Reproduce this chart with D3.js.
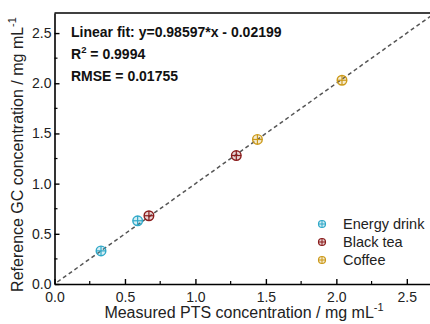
<!DOCTYPE html>
<html>
<head>
<meta charset="utf-8">
<script src="https://cdn.jsdelivr.net/npm/d3@7"></script>
<style>
  body { margin: 0; background: #fff; }
  text { font-family: "Liberation Sans", Arial, sans-serif; }
</style>
</head>
<body>
<div id="chart"></div>
<script>
// data
var groups = ["Energy drink", "Black tea", "Coffee"];
var colors = ["#2fa8c8", "#8a1c1c", "#cc9a1a"];
var measured = [[0.33, 0.59], [0.67, 1.29], [1.44, 2.04]];
var reference = [[0.33, 0.63], [0.68, 1.28], [1.44, 2.03]];
var tickValues = [0, 0.5, 1.0, 1.5, 2.0, 2.5];
var fitText = ["Linear fit: y=0.98597*x - 0.02199", "R2 = 0.9994", "RMSE = 0.01755"];

var W = 430, H = 324;
var margin = {top: 13, right: -5, bottom: 40, left: 54.5};
var width = W - margin.left - margin.right,
    height = H - margin.top - margin.bottom;

var svg = d3.select("#chart")
  .append("svg")
    .attr("width", W)
    .attr("height", H);

var g = svg.append("g")
    .attr("transform", "translate(" + margin.left + "," + margin.top + ")");

var x = d3.scaleLinear().domain([0, 2.7]).range([0, width]);
var y = d3.scaleLinear().domain([0, 2.7]).range([height, 0]);

// identity / fit dashed line
g.append("line")
  .attr("x1", x(0.02)).attr("y1", y(0.02))
  .attr("x2", x(2.7)).attr("y2", y(2.7))
  .attr("stroke", "#555")
  .attr("stroke-width", 1.5)
  .attr("stroke-dasharray", "4,3");

// axes
var minor = d3.range(0.25, 2.7, 0.5);
var xAxis = g.append("g").attr("transform", "translate(0," + height + ")");
xAxis.call(d3.axisBottom(x).tickValues(tickValues).tickFormat(d3.format(".1f")).tickSizeInner(-5).tickSizeOuter(0).tickPadding(8));
xAxis.append("g").selectAll("line").data(minor).join("line")
  .attr("x1", d => x(d)).attr("x2", d => x(d)).attr("y1", 0).attr("y2", -3)
  .attr("stroke", "#000").attr("stroke-width", 1.2);

var yAxis = g.append("g");
yAxis.call(d3.axisLeft(y).tickValues(tickValues).tickFormat(d3.format(".1f")).tickSizeInner(-5).tickSizeOuter(0).tickPadding(3));
yAxis.append("g").selectAll("line").data(minor).join("line")
  .attr("y1", d => y(d)).attr("y2", d => y(d)).attr("x1", 0).attr("x2", 3)
  .attr("stroke", "#000").attr("stroke-width", 1.2);

[xAxis, yAxis].forEach(function(a) {
  a.select(".domain").attr("stroke-width", 1.6);
  a.selectAll(".tick line").attr("stroke-width", 1.4);
  a.selectAll(".tick text").attr("font-size", 14).attr("fill", "#222")
    .style("font-family", "'Liberation Sans', Arial, sans-serif");
});

// top frame
g.append("line")
  .attr("x1", 0).attr("x2", width).attr("y1", 0).attr("y2", 0)
  .attr("stroke", "#000").attr("stroke-width", 1.6);

// markers: circle with cross
function marker(sel, color, r, sw) {
  sel.append("circle").attr("r", r)
    .attr("fill", color).attr("fill-opacity", 0.2)
    .attr("stroke", color).attr("stroke-width", sw);
  sel.append("line").attr("x1", -r).attr("x2", r).attr("stroke", color).attr("stroke-width", sw * 0.85);
  sel.append("line").attr("y1", -r).attr("y2", r).attr("stroke", color).attr("stroke-width", sw * 0.85);
}

groups.forEach(function(name, i) {
  var pts = measured[i].map((m, j) => [m, reference[i][j]]);
  g.append("g").selectAll("g").data(pts).join("g")
    .attr("transform", d => "translate(" + x(d[0]) + "," + y(d[1]) + ")")
    .each(function() { marker(d3.select(this), colors[i], 4.8, 1.4); });
});

// legend
var legend = g.append("g").attr("transform", "translate(" + (322 - margin.left) + "," + (224 - margin.top) + ")");
groups.forEach(function(name, i) {
  var row = legend.append("g").attr("transform", "translate(0," + (i * 18) + ")");
  marker(row, colors[i], 3.5, 1.2);
  row.append("text").attr("x", 21).attr("y", 5).attr("font-size", 14.5).attr("fill", "#222").text(name);
});

// fit annotation
var ann = g.append("g").attr("font-weight", "bold").attr("font-size", 14).attr("fill", "#111");
ann.append("text").attr("x", 71 - margin.left).attr("y", 37 - margin.top).text(fitText[0]);
var r2 = ann.append("text").attr("x", 71 - margin.left).attr("y", 59 - margin.top);
r2.append("tspan").text("R");
r2.append("tspan").attr("font-size", 9.5).attr("dy", -6).text("2");
r2.append("tspan").attr("dy", 6).text(" = 0.9994");
ann.append("text").attr("x", 71 - margin.left).attr("y", 81 - margin.top).text(fitText[2]);

// axis titles
var xt = svg.append("text").attr("x", 244).attr("y", 318).attr("text-anchor", "middle")
  .attr("font-size", 16).attr("fill", "#222");
xt.append("tspan").text("Measured PTS concentration / mg mL");
xt.append("tspan").attr("font-size", 11).attr("dy", -7).text("-1");

var yt = svg.append("text").attr("transform", "translate(23," + (margin.top + height / 2 + 6) + ") rotate(-90)")
  .attr("text-anchor", "middle").attr("font-size", 16).attr("fill", "#222");
yt.append("tspan").text("Reference GC concentration / mg mL");
yt.append("tspan").attr("font-size", 11).attr("dy", -7).text("-1");
</script>
</body>
</html>
